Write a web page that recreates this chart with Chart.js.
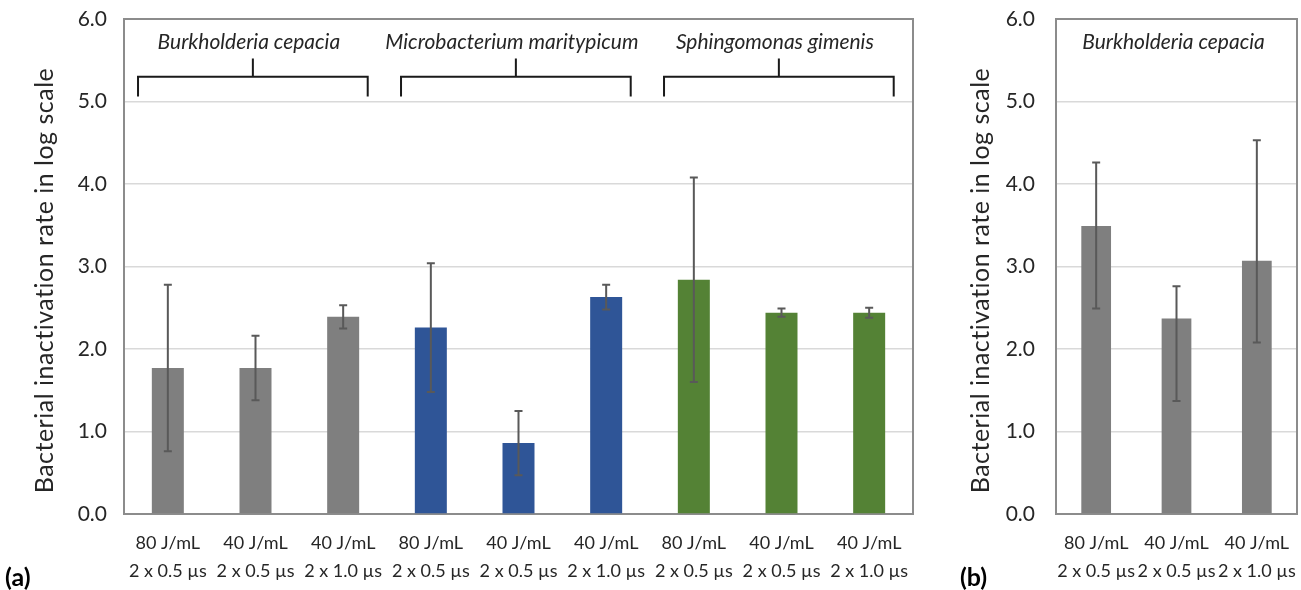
<!DOCTYPE html>
<html>
<head>
<meta charset="utf-8">
<script src="https://cdn.jsdelivr.net/npm/chart.js@4.4.1/dist/chart.umd.min.js"></script>
<style>
  html, body { margin: 0; padding: 0; background: #ffffff; }
  body { width: 1301px; height: 590px; position: relative; overflow: hidden; font-family: Lato, sans-serif; }
  .panel { position: absolute; top: 0; height: 590px; }
  #panelA { left: 0; width: 930px; }
  #panelB { left: 930px; width: 371px; }
  .tag { position: absolute; font-weight: bold; font-size: 25px; color: #000; line-height: 1; }
</style>
</head>
<body>
<div class="panel" id="panelA"><canvas id="chartA"></canvas></div>
<div class="panel" id="panelB"><canvas id="chartB"></canvas></div>
<div class="tag" style="left:5px; top:564px;">(a)</div>
<div class="tag" style="left:960px; top:564px;">(b)</div>
<script>
// Treatment conditions (two-line category labels)
const conditionsA = [
  ["80 J/mL", "2 x 0.5 µs"], ["40 J/mL", "2 x 0.5 µs"], ["40 J/mL", "2 x 1.0 µs"],
  ["80 J/mL", "2 x 0.5 µs"], ["40 J/mL", "2 x 0.5 µs"], ["40 J/mL", "2 x 1.0 µs"],
  ["80 J/mL", "2 x 0.5 µs"], ["40 J/mL", "2 x 0.5 µs"], ["40 J/mL", "2 x 1.0 µs"]
];
const conditionsB = [["80 J/mL", "2 x 0.5 µs"], ["40 J/mL", "2 x 0.5 µs"], ["40 J/mL", "2 x 1.0 µs"]];

// Species and which bars belong to each (first and last category index)
const speciesNames = ["Burkholderia cepacia", "Microbacterium maritypicum", "Sphingomonas gimenis"];
const speciesFirst = [0, 3, 6];
const speciesLast = [2, 5, 8];
const speciesOfBarA = [0, 0, 0, 1, 1, 1, 2, 2, 2];
const speciesB = "Burkholderia cepacia";

// Log inactivation (means) and error bars
const valuesA = [1.77, 1.77, 2.39, 2.26, 0.86, 2.63, 2.84, 2.44, 2.44];
const errorsA = [1.01, 0.39, 0.14, 0.78, 0.39, 0.15, 1.24, 0.05, 0.06];
const valuesB = [3.49, 2.37, 3.07];
const errorsBPlus = [0.77, 0.39, 1.46];
const errorsBMinus = [1.00, 1.00, 0.99];

// Value axis
const yTickValues = [0, 1, 2, 3, 4, 5, 6];
const yTickLabels = ["0.0", "1.0", "2.0", "3.0", "4.0", "5.0", "6.0"];
const yTitle = "Bacterial inactivation rate in log scale";

const FONT = "Lato, 'Open Sans', sans-serif";
const TEXT = "#262626";
const speciesColors = ["#7f7f7f", "#2f5597", "#548235"];

// Vertical error bars with caps
const errorBars = {
  id: "errorBars",
  afterDatasetsDraw(chart) {
    const { ctx } = chart;
    const y = chart.scales.y;
    chart.data.datasets.forEach((ds, di) => {
      chart.getDatasetMeta(di).data.forEach((bar, i) => {
        const v = ds.data[i];
        const top = y.getPixelForValue(v + ds.errorPlus[i]);
        const bot = y.getPixelForValue(v - ds.errorMinus[i]);
        ctx.save();
        ctx.strokeStyle = "#595959";
        ctx.lineWidth = 2;
        ctx.beginPath();
        ctx.moveTo(bar.x, top); ctx.lineTo(bar.x, bot);
        ctx.moveTo(bar.x - 4, top); ctx.lineTo(bar.x + 4, top);
        ctx.moveTo(bar.x - 4, bot); ctx.lineTo(bar.x + 4, bot);
        ctx.stroke();
        ctx.restore();
      });
    });
  }
};

// Box around the plotting area
const frame = {
  id: "frame",
  beforeDatasetsDraw(chart) {
    const { ctx, chartArea: a } = chart;
    ctx.save();
    ctx.strokeStyle = "#8c8c8c";
    ctx.lineWidth = 2;
    ctx.strokeRect(a.left, a.top, a.right - a.left, a.bottom - a.top);
    ctx.restore();
  }
};

// Rotated value-axis title
const axisTitle = {
  id: "axisTitle",
  afterDraw(chart, args, opts) {
    const { ctx, chartArea: a } = chart;
    ctx.save();
    ctx.translate(opts.x, (a.top + a.bottom) / 2 + opts.shift);
    ctx.rotate(-Math.PI / 2);
    ctx.font = `25px ${FONT}`;
    ctx.letterSpacing = "0.5px";
    ctx.fillStyle = TEXT;
    ctx.textAlign = "center";
    ctx.textBaseline = "middle";
    ctx.fillText(opts.text, 0, 0);
    ctx.restore();
  }
};

// Species names with brackets spanning their bars
const speciesBrackets = {
  id: "speciesBrackets",
  afterDraw(chart, args, opts) {
    const { ctx } = chart;
    const x = chart.scales.x, y = chart.scales.y;
    ctx.save();
    ctx.fillStyle = TEXT;
    ctx.font = `italic 21px ${FONT}`;
    ctx.textAlign = "center";
    ctx.textBaseline = "middle";
    opts.names.forEach((name, g) => {
      let cx;
      if (opts.brackets) {
        const x0 = x.getPixelForValue(opts.first[g] - 0.34);
        const x1 = x.getPixelForValue(opts.last[g] + 0.28);
        const yh = y.getPixelForValue(5.30);
        const ye = y.getPixelForValue(5.06);
        const yt = y.getPixelForValue(5.52);
        cx = (x0 + x1) / 2;
        ctx.strokeStyle = "#1a1a1a";
        ctx.lineWidth = 2;
        ctx.beginPath();
        ctx.moveTo(x0, ye); ctx.lineTo(x0, yh); ctx.lineTo(x1, yh); ctx.lineTo(x1, ye);
        ctx.moveTo(cx, yh); ctx.lineTo(cx, yt);
        ctx.stroke();
        cx -= 4;
      } else {
        cx = (chart.chartArea.left + chart.chartArea.right) / 2 - 3;
      }
      ctx.fillText(name, cx, y.getPixelForValue(5.72));
    });
    ctx.restore();
  }
};

function makeOptions(pad, yWidth, tickPad, titleX, species) {
  return {
    responsive: true,
    maintainAspectRatio: false,
    animation: false,
    layout: { padding: pad },
    plugins: {
      legend: { display: false },
      tooltip: { enabled: false },
      axisTitle: { text: yTitle, x: titleX, shift: 14 },
      speciesBrackets: species
    },
    scales: {
      x: {
        grid: { display: false, drawTicks: false },
        border: { display: false },
        ticks: {
          color: TEXT,
          font: { family: FONT, size: 18, lineHeight: 28 / 18 },
          padding: 15,
          maxRotation: 0,
          autoSkip: false
        },
        afterFit(s) { s.height = 76; s.paddingLeft = 0; s.paddingRight = 0; }
      },
      y: {
        min: 0,
        max: 6,
        afterBuildTicks(s) { s.ticks = yTickValues.map(v => ({ value: v })); },
        ticks: {
          color: TEXT,
          font: { family: FONT, size: 21 },
          padding: tickPad,
          callback: (v, i) => yTickLabels[i]
        },
        grid: { color: "#d9d9d9", lineWidth: 1.5, drawTicks: false },
        border: { display: false },
        afterFit(s) { s.width = yWidth; s.paddingTop = 0; s.paddingBottom = 0; }
      }
    }
  };
}

new Chart(document.getElementById("chartA"), {
  type: "bar",
  data: {
    labels: conditionsA,
    datasets: [{
      data: valuesA,
      errorPlus: errorsA,
      errorMinus: errorsA,
      backgroundColor: speciesOfBarA.map(s => speciesColors[s]),
      barPercentage: 0.365,
      categoryPercentage: 1
    }]
  },
  options: makeOptions({ top: 19, right: 17, left: 0, bottom: 0 }, 124, 17, 45,
    { names: speciesNames, first: speciesFirst, last: speciesLast, brackets: true }),
  plugins: [frame, errorBars, axisTitle, speciesBrackets]
});

new Chart(document.getElementById("chartB"), {
  type: "bar",
  data: {
    labels: conditionsB,
    datasets: [{
      data: valuesB,
      errorPlus: errorsBPlus,
      errorMinus: errorsBMinus,
      backgroundColor: speciesColors[0],
      barPercentage: 0.37,
      categoryPercentage: 1
    }]
  },
  options: makeOptions({ top: 19, right: 4, left: 0, bottom: 0 }, 126, 21, 51,
    { names: [speciesB], brackets: false }),
  plugins: [frame, errorBars, axisTitle, speciesBrackets]
});
</script>
</body>
</html>
